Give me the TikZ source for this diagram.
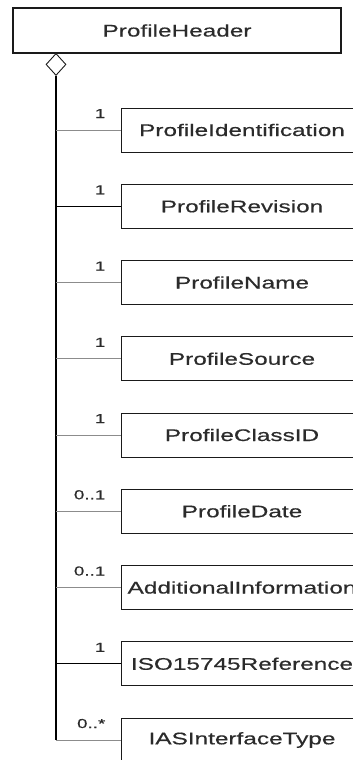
\documentclass[tikz,border=0pt]{standalone}
\usepackage{fontspec}
\setmainfont{Liberation Sans}[FakeStretch=1.45, FakeBold=0.5]
\usetikzlibrary{shapes.geometric}

\begin{document}
\begin{tikzpicture}[x=1pt, y=-1pt]
    % Define colours
    \definecolor{borderColour}{HTML}{1A1A1A}
    \definecolor{thinColour}{HTML}{8C8C8C}
    \definecolor{textColour}{HTML}{2B2B2B}

    % Define styles
    \tikzset{
        classbox/.style={draw=borderColour, line width=0.9pt, minimum width=242pt, minimum height=44pt, inner sep=0pt, text=textColour, font=\fontsize{16.8}{20}\selectfont},
        mult/.style={anchor=base east, inner sep=0pt, text=textColour, font=\fontsize{13}{15}\selectfont},
        lightbranch/.style={draw=thinColour, line width=0.7pt},
        heavybranch/.style={draw=black, line width=1.3pt}
    }

    % Fix the picture size
    \clip (0,0) rectangle (353,760);

    % Draw header class and aggregation diamond
    \node[classbox, minimum width=328pt, minimum height=45pt, line width=1.4pt] (header) at (177,30.5) {ProfileHeader};
    \node[draw=borderColour, fill=white, diamond, inner sep=0pt, minimum width=20pt, minimum height=22pt, line width=0.9pt, anchor=north] (agg) at (56,53) {};

    % Draw trunk
    \coordinate (trunkEnd) at (56,740);
    \draw[heavybranch] (agg.south) -- (trunkEnd);

    % Draw child classes with multiplicities
    \foreach \name/\mult/\wt [count=\i] in {ProfileIdentification/1/lightbranch, ProfileRevision/1/heavybranch, ProfileName/1/lightbranch, ProfileSource/1/lightbranch, ProfileClassID/1/lightbranch, ProfileDate/{0..1}/lightbranch, AdditionalInformation/{0..1}/lightbranch, ISO15745Reference/1/heavybranch, IASInterfaceType/{0..*}/lightbranch}
    {
        \node[classbox] (child\i) at (242,{130+76.25*(\i-1)}) {\name};
        \node[mult] (mult\i) at ([xshift=-15pt, yshift=12pt]child\i.west) {\mult};
        \draw[\wt] (child\i.west -| agg.south) -- (child\i.west);
    }

\end{tikzpicture}
\end{document}
